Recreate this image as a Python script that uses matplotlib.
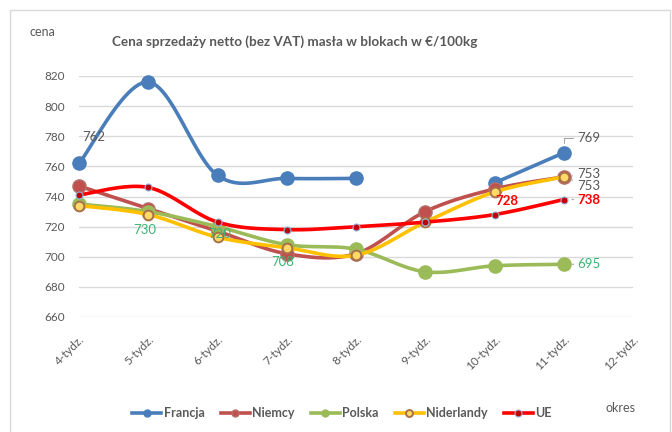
import numpy as np
import matplotlib
matplotlib.use("Agg")
import matplotlib.pyplot as plt
from matplotlib.patches import Rectangle
from matplotlib.lines import Line2D

plt.rcParams['font.family'] = ['Lato', 'DejaVu Sans']

weeks = ['4-tydz.', '5-tydz.', '6-tydz.', '7-tydz.', '8-tydz.',
         '9-tydz.', '10-tydz.', '11-tydz.', '12-tydz.']

francja = [762, 816, 754, 752, 752, np.nan, 749, 769]
niemcy = [747, 732, 717, 702, 702, 730, 745, 753]
polska = [735, 730, 720, 708, 705, 690, 694, 695]
niderlandy = [734, 728, 713, 706, 701, 723, 743, 753]
ue = [741, 746, 723, 718, 720, 723, 728, 738]

names = ['Francja', 'Niemcy', 'Polska', 'Niderlandy', 'UE']
series = [francja, niemcy, polska, niderlandy, ue]

GRAY = '#595959'


def smooth(xs, ys, n=24):
    # Excel-like smoothed line (Catmull-Rom as cubic Bezier)
    xs = np.asarray(xs, float)
    ys = np.asarray(ys, float)
    if len(xs) < 3:
        return xs, ys
    pts = np.column_stack([xs, ys])
    out = []
    t = np.linspace(0, 1, n)[:, None]
    for i in range(len(pts) - 1):
        p0 = pts[i - 1] if i > 0 else pts[i]
        p1, p2 = pts[i], pts[i + 1]
        p3 = pts[i + 2] if i + 2 < len(pts) else pts[i + 1]
        c1 = p1 + (p2 - p0) / 6
        c2 = p2 - (p3 - p1) / 6
        seg = ((1 - t) ** 3) * p1 + 3 * ((1 - t) ** 2) * t * c1 \
            + 3 * (1 - t) * t ** 2 * c2 + t ** 3 * p2
        out.append(seg if i == 0 else seg[1:])
    seg = np.vstack(out)
    return seg[:, 0], seg[:, 1]


def draw(ax, vals, color, lw, mk):
    vals = np.asarray(vals, float)
    x = np.arange(len(vals))
    ok = ~np.isnan(vals)
    # split runs at gaps
    start = None
    for i in range(len(vals) + 1):
        good = i < len(vals) and ok[i]
        if good and start is None:
            start = i
        if not good and start is not None:
            sx, sy = smooth(x[start:i], vals[start:i])
            ax.plot(sx, sy, color=color, lw=lw, solid_capstyle='round', clip_on=False)
            start = None
    ax.plot(x[ok], vals[ok], ls='none', clip_on=False, **mk)


fig = plt.figure(figsize=(6.72, 4.32), dpi=100)
fig.patches.append(Rectangle((10 / 672, -0.01), 660 / 672, 1 - 10 / 432 + 0.01,
                             transform=fig.transFigure, fill=False,
                             edgecolor='#d9d9d9', lw=1))
ax = fig.add_axes([79 / 672, 1 - 317 / 432, 554 / 672, 241 / 432])

styles = [
    ('#4a7ebb', 2.6, dict(marker='o', ms=9.5, mfc='#4a7ebb', mec='#4a7ebb')),
    ('#c0504d', 2.6, dict(marker='o', ms=9.5, mfc='#c0504d', mec='#b4706a')),
    ('#9bbb59', 2.6, dict(marker='o', ms=9.5, mfc='#9bbb59', mec='#9bbb59')),
    ('#ffc000', 2.6, dict(marker='o', ms=7, mfc='#ffd966', mec='#a8704a', mew=1.4)),
    ('#ff0000', 2.6, dict(marker='o', ms=5, mfc='#c00000', mec='#8fb4e3', mew=0.8)),
]
for vals, (c, lw, mk) in zip(series, styles):
    draw(ax, vals, c, lw, mk)

ax.set_xlim(0, len(weeks) - 1)
ax.set_ylim(660, 820)
ax.set_yticks(np.arange(660, 821, 20))
ax.set_xticks(np.arange(len(weeks)))
ax.set_xticklabels(weeks, rotation=45, ha='right', va='top', rotation_mode='anchor')
ax.tick_params(axis='both', length=0, colors=GRAY, labelsize=8.5)
ax.tick_params(axis='x', pad=12)
ax.tick_params(axis='y', pad=10)
ax.grid(axis='y', color='#d9d9d9', lw=1)
ax.set_axisbelow(True)
for s in ax.spines.values():
    s.set_visible(False)

# data labels
def lab(vals, i, txt, dx, dy, color, ha='left', bold=False, leader=None):
    ax.annotate(txt, (i, vals[i]), xytext=(dx, dy), textcoords='offset pixels',
                ha=ha, va='center', color=color, fontsize=9.5,
                fontweight='bold' if bold else 'normal',
                arrowprops=leader, annotation_clip=False)

lead = dict(arrowstyle='-', color='#a6a6a6', lw=0.8, shrinkA=1, shrinkB=6)
lab(francja, 0, '762', 3, 26, GRAY)
lab(francja, 7, '769', 13, 15, GRAY,
    leader=dict(arrowstyle='-', color='#a6a6a6', lw=0.8, shrinkA=1, shrinkB=7,
                connectionstyle='angle,angleA=0,angleB=90,rad=0'))
lab(niemcy, 7, '753', 13, 3, GRAY, leader=lead)
lab(niderlandy, 7, '753', 13, -9, GRAY, leader=lead)
lab(ue, 6, '728', 1, 14, '#ff0000', bold=True)
lab(ue, 7, '738', 14, 0, '#ff0000', bold=True, leader=lead)
lab(polska, 1, '730', -3, -18, '#3cb371', ha='center')
lab(polska, 2, '720', 2, -7, '#3cb371', ha='center')
lab(polska, 3, '708', -4, -17, '#3cb371', ha='center')
lab(polska, 7, '695', 14, 0, '#3cb371', leader=lead)

fig.text(295 / 672, 1 - 42 / 432, 'Cena sprzedaży netto (bez VAT) masła w blokach w €/100kg',
         ha='center', va='center', fontsize=9.7, fontweight='bold', color=GRAY)
fig.text(30 / 672, 1 - 32 / 432, 'cena', ha='left', va='center', fontsize=9, color=GRAY)
fig.text(605 / 672, 1 - 408 / 432, 'okres', ha='left', va='center', fontsize=9, color=GRAY)

handles = [Line2D([], [], color=c, lw=lw, **dict(mk, ms=min(mk['ms'], 5)))
           for c, lw, mk in styles]
fig.legend(handles, names, loc='center', bbox_to_anchor=(342 / 672, 1 - 413 / 432),
           ncol=5, frameon=False, handlelength=2.3, handletextpad=0.2,
           columnspacing=1.3, prop=dict(size=9, weight='bold'), labelcolor=GRAY)

fig.savefig('out.png', dpi=100)
